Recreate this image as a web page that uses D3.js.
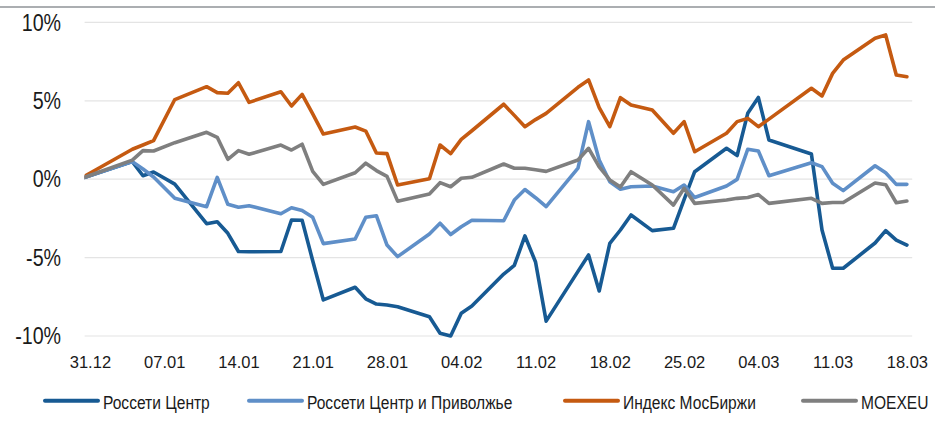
<!DOCTYPE html>
<html>
<head>
<meta charset="utf-8">
<script src="https://cdn.jsdelivr.net/npm/d3@7"></script>
<style>
  body { margin: 0; background: #fff; }
  svg { display: block; }
</style>
</head>
<body>
<div id="chart"></div>
<script>
// trading days, 30.12.2020 .. 18.03.2021
var dates = ["30.12.2020","04.01.2021","05.01.2021","06.01.2021","08.01.2021",
  "11.01.2021","12.01.2021","13.01.2021","14.01.2021","15.01.2021",
  "18.01.2021","19.01.2021","20.01.2021","21.01.2021","22.01.2021",
  "25.01.2021","26.01.2021","27.01.2021","28.01.2021","29.01.2021",
  "01.02.2021","02.02.2021","03.02.2021","04.02.2021","05.02.2021",
  "08.02.2021","09.02.2021","10.02.2021","11.02.2021","12.02.2021",
  "15.02.2021","16.02.2021","17.02.2021","18.02.2021","19.02.2021","20.02.2021",
  "22.02.2021","24.02.2021","25.02.2021","26.02.2021",
  "01.03.2021","02.03.2021","03.03.2021","04.03.2021","05.03.2021",
  "09.03.2021","10.03.2021","11.03.2021","12.03.2021",
  "15.03.2021","16.03.2021","17.03.2021","18.03.2021"];

var rossetiCentr = [0, 1.12, 0.22, 0.46, -0.31,
  -2.84, -2.71, -3.45, -4.61, -4.63,
  -4.61, -2.60, -2.62, -5.20, -7.70,
  -6.89, -7.63, -7.96, -8.02, -8.13,
  -8.77, -9.83, -10.0, -8.55, -8.09,
  -6.05, -5.50, -3.62, -5.28, -9.05,
  -5.88, -4.83, -7.13, -4.09, -3.24, -2.28,
  -3.28, -3.13, -1.30, 0.48,
  1.97, 1.51, 4.20, 5.21, 2.50,
  1.61, -3.24, -5.68, -5.68,
  -4.07, -3.28, -3.88, -4.20];

var rossetiCentrPrivolzhye = [0, 1.12, 0.65, 0.14, -1.22,
  -1.75, 0.12, -1.60, -1.79, -1.69,
  -2.20, -1.82, -2.00, -2.43, -4.11,
  -3.81, -2.43, -2.33, -4.20, -4.94,
  -3.49, -2.81, -3.53, -3.03, -2.62,
  -2.65, -1.33, -0.66, -1.18, -1.75,
  0.70, 3.67, 1.22, -0.16, -0.64, -0.48,
  -0.43, -0.80, -0.37, -1.17,
  -0.43, -0.01, 1.91, 1.80, 0.22,
  1.05, 0.80, -0.26, -0.73,
  0.86, 0.41, -0.33, -0.33];

var imoex = [0, 1.91, 2.18, 2.46, 5.08,
  5.90, 5.52, 5.48, 6.15, 4.90,
  5.58, 4.67, 5.41, 4.16, 2.88,
  3.33, 3.07, 1.67, 1.63, -0.37,
  0.03, 2.18, 1.63, 2.54, 3.09,
  4.78, 4.07, 3.35, 3.80, 4.20,
  5.86, 6.33, 4.56, 3.35, 5.20, 4.73,
  4.41, 2.93, 3.67, 1.75,
  2.93, 3.67, 3.88, 3.35, 3.83,
  5.80, 5.31, 6.75, 7.60,
  8.99, 9.20, 6.65, 6.54];

var moexeu = [0, 1.22, 1.82, 1.80, 2.33,
  2.99, 2.67, 1.27, 1.82, 1.59,
  2.18, 1.86, 2.23, 0.50, -0.33,
  0.41, 1.02, 0.55, 0.18, -1.40,
  -0.94, -0.22, -0.48, 0.06, 0.12,
  0.97, 0.70, 0.70, 0.60, 0.50,
  1.22, 1.97, 0.78, -0.05, -0.50, 0.48,
  -0.37, -1.65, -0.58, -1.54,
  -1.33, -1.22, -1.17, -0.98, -1.54,
  -1.22, -1.54, -1.49, -1.49,
  -0.24, -0.35, -1.50, -1.39];

var seriesNames = ["Россети Центр", "Россети Центр и Приволжье", "Индекс МосБиржи", "MOEXEU"];
var seriesColors = ["#175a93", "#5f8fc8", "#c55a11", "#7f7f7f"];
var yTicks = [-10, -5, 0, 5, 10];

var width = 935, height = 434;
var font = '"Liberation Sans", Arial, sans-serif';
var narrow = 0.82; // condensed look, like Arial Narrow
var parse = d3.utcParse("%d.%m.%Y");
var days = dates.map(parse);

var svg = d3.select('#chart').append('svg')
  .attr('width', width)
  .attr('height', height);

var x = d3.scaleUtc()
  .domain([d3.utcHour.offset(parse("30.12.2020"), 12), d3.utcHour.offset(parse("18.03.2021"), 12)])
  .range([84.6, 912.2]);

var y = d3.scaleLinear()
  .domain([-10, 10])
  .range([336, 22.4]);

// top border
svg.append('line')
  .attr('x1', 0).attr('x2', width)
  .attr('y1', 7).attr('y2', 7)
  .attr('stroke', '#abaeb1')
  .attr('stroke-width', 2);

// gridlines
svg.selectAll('.grid')
  .data(yTicks)
  .enter()
  .append('line')
  .attr('class', 'grid')
  .attr('x1', x.range()[0]).attr('x2', x.range()[1])
  .attr('y1', function(d) { return y(d); })
  .attr('y2', function(d) { return y(d); })
  .attr('stroke', '#e4e4e4')
  .attr('stroke-width', 1.2);

// y axis
var yAxis = svg.append('g')
  .attr('transform', 'translate(' + x.range()[0] + ',0)')
  .call(d3.axisLeft(y).tickValues(yTicks).tickSize(0)
    .tickFormat(function(d) { return d + "%"; }));
yAxis.select('.domain').remove();
yAxis.selectAll('text')
  .attr('x', -23.5 / narrow)
  .attr('transform', 'scale(' + narrow + ',1)')
  .attr('fill', '#1a1a1a')
  .style('font-family', font)
  .style('font-size', '24px');

// x axis
var xTicks = d3.utcDay.range(parse("31.12.2020"), parse("19.03.2021"), 7);
var xAxis = svg.append('g')
  .attr('transform', 'translate(0,336)')
  .call(d3.axisBottom(x).tickValues(xTicks).tickSize(0).tickPadding(20.5)
    .tickFormat(d3.utcFormat("%d.%m")));
xAxis.select('.domain').remove();
xAxis.selectAll('text')
  .attr('fill', '#1a1a1a')
  .style('font-family', font)
  .style('font-size', '16.5px');

// clip
svg.append('clipPath').attr('id', 'plot')
  .append('rect')
  .attr('x', x.range()[0]).attr('y', 0)
  .attr('width', x.range()[1] - x.range()[0] + 4)
  .attr('height', height);

var allSeries = [rossetiCentr, rossetiCentrPrivolzhye, imoex, moexeu];

var line = d3.line()
  .x(function(d, i) { return x(days[i]); })
  .y(function(d) { return y(d); });

svg.append('g')
  .attr('clip-path', 'url(#plot)')
  .selectAll('path')
  .data(allSeries)
  .enter()
  .append('path')
  .attr('d', line)
  .attr('fill', 'none')
  .attr('stroke', function(d, i) { return seriesColors[i]; })
  .attr('stroke-width', 3.6)
  .attr('stroke-linejoin', 'round')
  .attr('stroke-linecap', 'round');

// legend
var legendX = [45, 249, 565, 803];
var legend = svg.selectAll('.legend')
  .data(seriesNames)
  .enter()
  .append('g')
  .attr('class', 'legend')
  .attr('transform', function(d, i) { return 'translate(' + legendX[i] + ',400.7)'; });

legend.append('line')
  .attr('x1', 0).attr('x2', 53)
  .attr('stroke', function(d, i) { return seriesColors[i]; })
  .attr('stroke-width', 4)
  .attr('stroke-linecap', 'round');

legend.append('text')
  .attr('transform', 'translate(58,8) scale(' + narrow + ',1)')
  .attr('fill', '#1a1a1a')
  .style('font-family', font)
  .style('font-size', '19px')
  .text(function(d) { return d; });
</script>
</body>
</html>
